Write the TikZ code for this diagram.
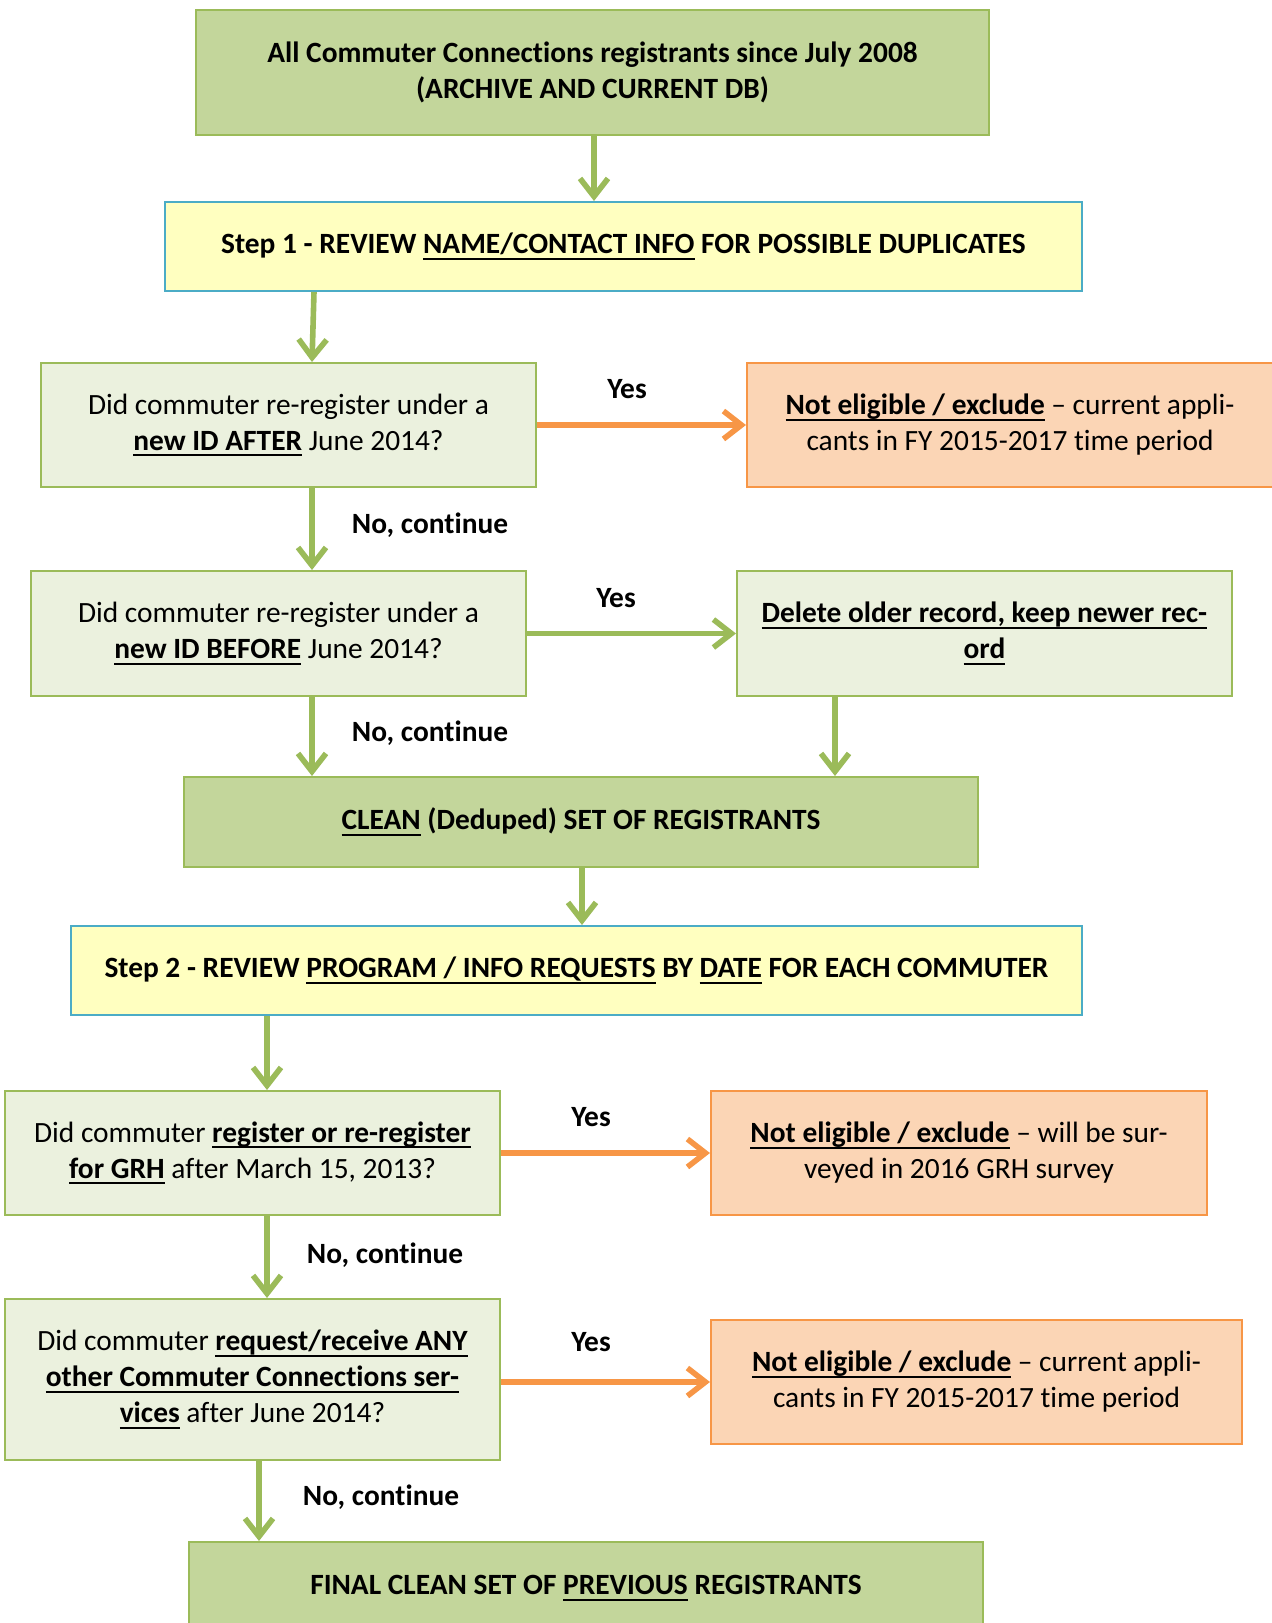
\documentclass[tikz,border=0pt]{standalone}
\usepackage{fontspec}
\setmainfont[Ligatures={TeX,NoCommon}]{Carlito}
\usetikzlibrary{arrows.meta,calc}
\definecolor{boxgreen}{HTML}{C3D69B}
\definecolor{palegreen}{HTML}{EBF1DE}
\definecolor{edgegreen}{HTML}{9BBB59}
\definecolor{paleyellow}{HTML}{FFFFC0}
\definecolor{edgeblue}{HTML}{4BACC6}
\definecolor{paleorange}{HTML}{FBD5B5}
\definecolor{edgeorange}{HTML}{F79646}
\newcommand\undr[1]{\setbox0\hbox{#1}\rlap{\rule[-0.2em]{\wd0}{0.07em}}\box0\relax}
\tikzset{
  base/.style={rectangle, line width=1pt, align=center, inner sep=0pt,
    font=\fontsize{14.7}{18}\selectfont},
  mainbox/.style={base, fill=boxgreen, draw=edgegreen},
  question/.style={base, fill=palegreen, draw=edgegreen},
  stepbox/.style={base, fill=paleyellow, draw=edgeblue},
  exclbox/.style={base, fill=paleorange, draw=edgeorange},
  garrow/.style={draw=edgegreen, line width=2.8pt, -{Straight Barb[length=9pt,width=14pt]}},
  oarrow/.style={draw=edgeorange, line width=2.8pt, -{Straight Barb[length=9pt,width=14pt]}},
  lbl/.style={font=\bfseries\fontsize{14.7}{18}\selectfont, inner sep=0pt}
}
\begin{document}
\begin{tikzpicture}[x=0.5pt,y=-0.5pt]
  \useasboundingbox (0,0) rectangle (1272,1623);
  % boxes
  \node[mainbox, minimum width=396.5pt, minimum height=62.5pt] (top) at (592.5,72.5)
    {\bfseries All Commuter Connections registrants since July 2008\\ \bfseries(ARCHIVE AND CURRENT DB)};
  \node[stepbox, minimum width=458.5pt, minimum height=44.5pt] (step1) at (623.5,246.5)
    {\bfseries Step 1 - REVIEW \undr{NAME/CONTACT INFO} FOR POSSIBLE DUPLICATES};
  \node[question, minimum width=247.5pt, minimum height=62pt] (q1) at (288.5,425)
    {Did commuter re-register under a\\ \undr{\bfseries new ID AFTER} June 2014?};
  \node[exclbox, minimum width=263pt, minimum height=62pt] (ne1) at (1010,425)
    {\undr{\bfseries Not eligible / exclude} -- current appli-\\ cants in FY 2015-2017 time period};
  \node[question, minimum width=247.5pt, minimum height=62.5pt] (q2) at (278.5,633.5)
    {Did commuter re-register under a\\ \undr{\bfseries new ID BEFORE} June 2014?};
  \node[question, minimum width=247.5pt, minimum height=62.5pt] (del) at (984.5,633.5)
    {\undr{\bfseries Delete older record, keep newer rec-}\\ \undr{\bfseries ord}};
  \node[mainbox, minimum width=397pt, minimum height=45pt] (clean) at (581,822)
    {\bfseries\undr{CLEAN} (Deduped) SET OF REGISTRANTS};
  \node[stepbox, minimum width=505.5pt, minimum height=44.5pt] (step2) at (576.5,970.5)
    {\bfseries Step 2 - REVIEW \undr{PROGRAM / INFO REQUESTS} BY \undr{DATE} FOR EACH COMMUTER};
  \node[question, minimum width=247.5pt, minimum height=62pt] (q3) at (252.5,1153)
    {Did commuter \undr{\bfseries register or re-register}\\ \undr{\bfseries for GRH} after March 15, 2013?};
  \node[exclbox, minimum width=248pt, minimum height=62pt] (ne2) at (959,1153)
    {\undr{\bfseries Not eligible / exclude} -- will be sur-\\ veyed in 2016 GRH survey};
  \node[question, minimum width=247.5pt, minimum height=80.5pt] (q4) at (252.5,1379.5)
    {Did commuter \undr{\bfseries request/receive ANY}\\ \undr{\bfseries other Commuter Connections ser-}\\ \undr{\bfseries vices} after June 2014?};
  \node[exclbox, minimum width=265.5pt, minimum height=62pt] (ne3) at (976.5,1382)
    {\undr{\bfseries Not eligible / exclude} -- current appli-\\ cants in FY 2015-2017 time period};
  \node[mainbox, minimum width=397pt, minimum height=46pt] (final) at (586,1588)
    {\bfseries FINAL CLEAN SET OF \undr{PREVIOUS} REGISTRANTS};
  % labels
  \node[lbl] (yes1) at (627,389) {Yes};
  \node[lbl] (yes2) at (616,598) {Yes};
  \node[lbl] (yes3) at (591,1117) {Yes};
  \node[lbl] (yes4) at (591,1342) {Yes};
  \node[lbl] (no1) at (430,525) {No, continue};
  \node[lbl] (no2) at (430,733) {No, continue};
  \node[lbl] (no3) at (385,1255) {No, continue};
  \node[lbl] (no4) at (381,1497) {No, continue};
  % downward connectors
  \draw[garrow] ([xshift=0.75pt]top.south) -- ([xshift=0.75pt]top.south |- step1.north);
  \draw[garrow] ([xshift=75pt]step1.south west) -- ([xshift=11.75pt]q1.north);
  \draw[garrow] ([xshift=11.75pt]q1.south) -- ([xshift=11.75pt]q1.south |- q2.north);
  \draw[garrow] ([xshift=16.75pt]q2.south) -- ([xshift=16.75pt]q2.south |- clean.north);
  \draw[garrow] ([xshift=-74.75pt]del.south) -- ([xshift=-74.75pt]del.south |- clean.north);
  \draw[garrow] ([xshift=0.5pt]clean.south) -- ([xshift=0.5pt]clean.south |- step2.north);
  \draw[garrow] ([xshift=7.25pt]q3.north |- step2.south) -- ([xshift=7.25pt]q3.north);
  \draw[garrow] ([xshift=7.25pt]q3.south) -- ([xshift=7.25pt]q3.south |- q4.north);
  \draw[garrow] ([xshift=3.25pt]q4.south) -- ([xshift=3.25pt]q4.south |- final.north);
  % yes connectors
  \draw[oarrow] (q1.east) -- (ne1.west);
  \draw[garrow] (q2.east) -- (del.west);
  \draw[oarrow] (q3.east) -- (ne2.west);
  \draw[oarrow] (ne3.west -| q4.east) -- (ne3.west);
\end{tikzpicture}
\end{document}
